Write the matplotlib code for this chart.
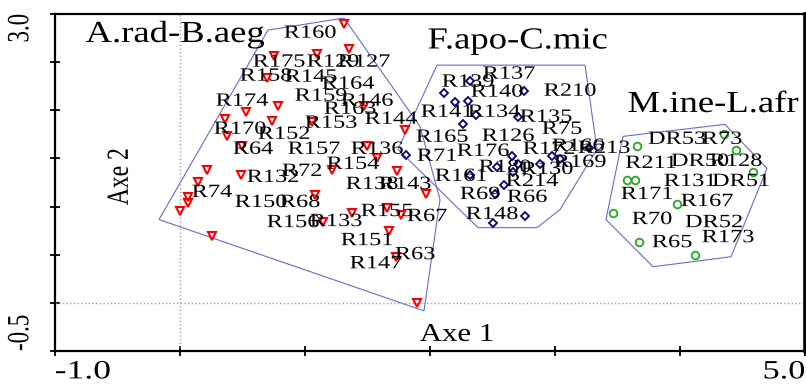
import numpy as np
import matplotlib
matplotlib.use("Agg")
import matplotlib.pyplot as plt
from matplotlib.patheffects import AbstractPathEffect
from matplotlib.transforms import Affine2D

plt.rcParams['font.family'] = ['Liberation Serif', 'DejaVu Serif']

# group A.rad-B.aeg : points (Axe 1, Axe 2)
a_x = [1.312, 1.352, 1.096, 0.752, 0.696, 0.784, 0.528, 0.360, 0.736, 0.376, 1.056,
       1.472, 1.800, 0.496, 1.496, 1.576, 0.216, 0.488, 0.144, 0.064, 0.064, 0.000,
       0.256, 1.216, 1.736, 1.080, 1.968, 1.376, 1.656, 1.768, 1.672, 1.728, 1.896, 1.144]
a_y = [2.896, 2.635, 2.583, 2.563, 2.333, 2.042, 1.979, 1.906, 1.885, 1.729, 1.875,
       2.042, 1.792, 1.625, 1.625, 1.500, 1.375, 1.333, 1.260, 1.104, 1.042, 0.958,
       0.698, 1.385, 1.365, 1.125, 1.135, 0.938, 0.990, 0.917, 0.750, 0.479, 0.000, 0.844]
a_hull_x = [-0.168, 0.704, 1.312, 1.920, 2.080, 1.952]
a_hull_y = [0.865, 2.833, 2.958, 1.833, 1.073, -0.083]
a_names = ['R160', 'R175', 'R129', 'R127', 'R158', 'R145', 'R164', 'R174', 'R159', 'R146',
           'R163', 'R153', 'R144', 'R170', 'R152', 'R64', 'R157', 'R136', 'R132', 'R72',
           'R154', 'R74', 'R150', 'R68', 'R156', 'R133', 'R138', 'R143', 'R155', 'R67',
           'R151', 'R63', 'R147']
a_lx = [1.040, 0.792, 1.224, 1.472, 0.688, 1.048, 1.344, 0.496, 1.128, 1.496,
        1.360, 1.208, 1.688, 0.480, 0.832, 0.584, 1.072, 1.576, 0.744, 0.976,
        1.384, 0.256, 0.648, 0.960, 0.904, 1.248, 1.536, 1.800, 1.656, 1.976,
        1.496, 1.880, 1.568]
a_ly = [2.800, 2.500, 2.500, 2.500, 2.354, 2.344, 2.271, 2.094, 2.146, 2.094,
        2.010, 1.865, 1.906, 1.802, 1.750, 1.594, 1.594, 1.594, 1.302, 1.365,
        1.438, 1.146, 1.042, 1.042, 0.833, 0.844, 1.229, 1.229, 0.948, 0.896,
        0.646, 0.500, 0.406]

# group F.apo-C.mic
f_x = [2.320, 2.112, 2.200, 2.304, 2.752, 2.368, 2.264, 2.704, 1.808, 2.656, 2.536,
       2.704, 2.664, 2.880, 2.976, 3.040, 2.320, 2.592, 2.520, 2.760, 2.504, 3.272]
f_y = [2.302, 2.177, 2.083, 2.094, 2.198, 1.948, 1.854, 1.927, 1.531, 1.521, 1.406,
       1.438, 1.354, 1.438, 1.521, 1.490, 1.323, 1.229, 1.135, 0.906, 0.833, 1.604]
f_hull_x = [2.056, 3.240, 3.336, 3.040, 2.856, 2.384, 1.744]
f_hull_y = [2.469, 2.469, 1.594, 0.969, 0.781, 0.781, 1.594]
f_names = ['R137', 'R139', 'R140', 'R210', 'R141', 'R134', 'R135', 'R165', 'R126', 'R75',
           'R166', 'R213', 'R71', 'R176', 'R172', 'R169', 'R161', 'R180', 'R130', 'R214',
           'R69', 'R66', 'R148']
f_lx = [2.632, 2.304, 2.536, 3.120, 2.136, 2.512, 2.928, 2.096, 2.624, 3.056,
        3.184, 3.392, 2.056, 2.424, 2.952, 3.200, 2.248, 2.600, 2.936, 2.816,
        2.400, 2.776, 2.496]
f_ly = [2.375, 2.292, 2.188, 2.198, 1.979, 1.979, 1.927, 1.719, 1.729, 1.802,
        1.625, 1.604, 1.521, 1.573, 1.594, 1.458, 1.313, 1.406, 1.385, 1.260,
        1.125, 1.094, 0.917]

# group M.ine-L.afr
m_x = [3.656, 4.352, 4.448, 4.584, 3.576, 3.640, 3.976, 3.464, 3.672, 4.120]
m_y = [1.625, 1.750, 1.583, 1.354, 1.271, 1.271, 1.031, 0.938, 0.635, 0.500]
m_hull_x = [3.544, 4.360, 4.696, 4.408, 3.784, 3.408]
m_hull_y = [1.729, 1.854, 1.396, 0.479, 0.375, 0.865]
m_names = ['DR53', 'R73', 'R211', 'DR50', 'R128', 'R131', 'DR51', 'R171', 'R167',
           'R70', 'DR52', 'R173', 'R65']
m_lx = [3.976, 4.336, 3.768, 4.160, 4.448, 4.080, 4.488, 3.736, 4.216, 3.776, 4.272, 4.384, 3.936]
m_ly = [1.698, 1.698, 1.448, 1.469, 1.469, 1.260, 1.260, 1.125, 1.052, 0.865, 0.833, 0.677, 0.625]

groups = ['A.rad-B.aeg', 'F.apo-C.mic', 'M.ine-L.afr']
group_x = [-0.04, 2.70, 4.264]
group_y = [2.79, 2.72, 2.06]

hull_col = '#6a6acc'


# the original output is drawn with wide (horizontally stretched) type
class Stretch(AbstractPathEffect):
    def __init__(self, sx=1.3, anchor='center'):
        super().__init__()
        self.sx = sx
        self.anchor = anchor

    def draw_path(self, renderer, gc, tpath, affine, rgbFace=None):
        if len(tpath.vertices):
            bb = tpath.get_extents(affine)
            cx = {'left': bb.x0, 'right': bb.x1}.get(self.anchor, (bb.x0 + bb.x1) / 2)
            affine = affine + Affine2D().translate(-cx, 0).scale(self.sx, 1).translate(cx, 0)
        renderer.draw_path(gc, tpath, affine, rgbFace)


fig = plt.figure(figsize=(8.06, 3.87), dpi=100)
ax = fig.add_axes([55 / 806, 36 / 387, 750 / 806, 337 / 387])

ax.axvline(0, color='#a0a0a0', ls=':', lw=1)
ax.axhline(0, color='#a0a0a0', ls=':', lw=1)

for hx, hy in [(a_hull_x, a_hull_y), (f_hull_x, f_hull_y), (m_hull_x, m_hull_y)]:
    ax.fill(hx, hy, fill=False, edgecolor=hull_col, lw=0.8)

ax.plot(a_x, a_y, 'v', ms=5.5, mfc='none', mec='#ff0000', mew=1.5)
ax.plot(f_x, f_y, 'D', ms=4, mfc='none', mec='#000080', mew=1.3)
ax.plot(m_x, m_y, 'o', ms=5.5, mfc='none', mec='#22aa22', mew=1.3)

for names, lx, ly in [(a_names, a_lx, a_ly), (f_names, f_lx, f_ly), (m_names, m_lx, m_ly)]:
    for n, x, y in zip(names, lx, ly):
        ax.text(x, y, n, fontsize=13.5, ha='center', va='center',
                path_effects=[Stretch(1.3)])

for g, x, y in zip(groups, group_x, group_y):
    ax.text(x, y, g, fontsize=22, ha='center', va='center', path_effects=[Stretch(1.2)])

ax.text(2.216, -0.333, 'Axe 1', fontsize=18.5, ha='center', va='center',
        path_effects=[Stretch(1.2)])
ax.text(-0.48, 1.31, 'Axe 2', fontsize=17, ha='center', va='center', rotation=90,
        path_effects=[Stretch(1.3)])

ax.set_xlim(-1.0, 5.0)
ax.set_ylim(-0.5, 3.0)

xt = np.arange(-1, 6, 1.0)
ax.set_xticks(xt)
ax.set_xticklabels(['-1.0'] + [''] * 5 + ['5.0'], fontsize=19)
xl = ax.get_xticklabels()
xl[0].set_ha('left')
xl[0].set_path_effects([Stretch(1.35, 'left')])
xl[-1].set_ha('right')
xl[-1].set_path_effects([Stretch(1.3, 'right')])

yt = np.arange(-0.5, 3.01, 0.5)
ax.set_yticks(yt)
ax.set_yticklabels(['-0.5'] + [''] * 6 + ['3.0'], fontsize=16.5, rotation=90)
yl = ax.get_yticklabels()
yl[0].set_va('bottom')
yl[-1].set_va('top')
for t in yl:
    t.set_path_effects([Stretch(1.35)])

ax.tick_params(direction='inout', length=7, width=1.3, pad=4)
ax.tick_params(axis='y', pad=14)
for s in ax.spines.values():
    s.set_linewidth(1.6)
ax.spines['right'].set_linewidth(2.6)

fig.savefig('out.png', dpi=100)
